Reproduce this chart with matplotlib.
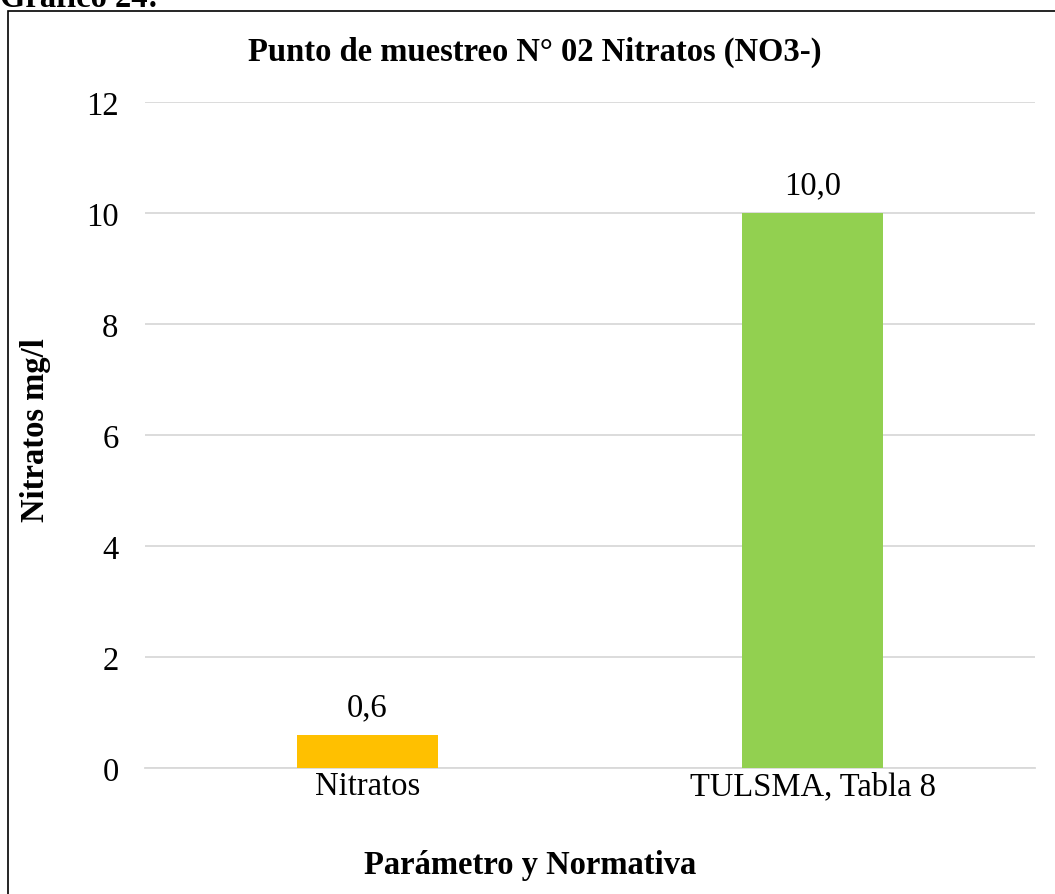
import matplotlib
matplotlib.use("Agg")
import matplotlib.pyplot as plt
from matplotlib.patches import Rectangle

categories = ["Nitratos", "TULSMA, Tabla 8"]
values = [0.6, 10.0]
value_labels = ["0,6", "10,0"]
colors = ["#FFC000", "#92D050"]
yticks = [0, 2, 4, 6, 8, 10, 12]

plt.rcParams['font.family'] = ['Liberation Serif', 'DejaVu Serif']
FS = 23.5

fig = plt.figure(figsize=(10.55, 8.95), dpi=100)
ax = fig.add_axes([145/1055, 1-769/895, 890/1055, (769-103)/895])

x = list(range(len(categories)))
ax.bar(x, values, width=0.315, color=colors, zorder=3)
ax.set_xlim(-0.5, 1.5)
ax.set_ylim(0, 12)
ax.set_yticks(yticks)
ax.set_yticklabels([str(t) for t in yticks])
ax.set_xticks(x)
ax.set_xticklabels(categories)
ax.tick_params(axis='both', length=0, labelsize=FS, colors='black')
ax.tick_params(axis='y', pad=19)
ax.tick_params(axis='x', pad=2)
ax.grid(axis='y', color='#D9D9D9', linewidth=1.3, zorder=0)
for s in ['top', 'right', 'left']:
    ax.spines[s].set_visible(False)
ax.spines['bottom'].set_color('#D9D9D9')
ax.spines['bottom'].set_linewidth(1.3)

for xi, v, lab in zip(x, values, value_labels):
    ax.annotate(lab, (xi, v), xytext=(0, 9), textcoords='offset points',
                ha='center', va='bottom', fontsize=FS)

fig.text(535/1055, 1-52/895, "Punto de muestreo N° 02 Nitratos (NO3-)",
         ha='center', va='center', fontsize=FS, fontweight='bold')
fig.text(36/1055, 1-430/895, "Nitratos mg/l", rotation=90,
         ha='center', va='center', fontsize=FS, fontweight='bold')
fig.text(530/1055, 1-866/895, "Parámetro y Normativa",
         ha='center', va='center', fontsize=FS, fontweight='bold')
fig.text(0, 1-7/895, "Gráfico 24:", ha='left', va='baseline',
         fontsize=FS, fontweight='bold')

fig.patches.append(Rectangle((8/1055, -0.05), 1.1, 1-12/895+0.05,
                             transform=fig.transFigure, fill=False,
                             edgecolor='black', linewidth=1.2))

fig.savefig("out.png", dpi=100)
